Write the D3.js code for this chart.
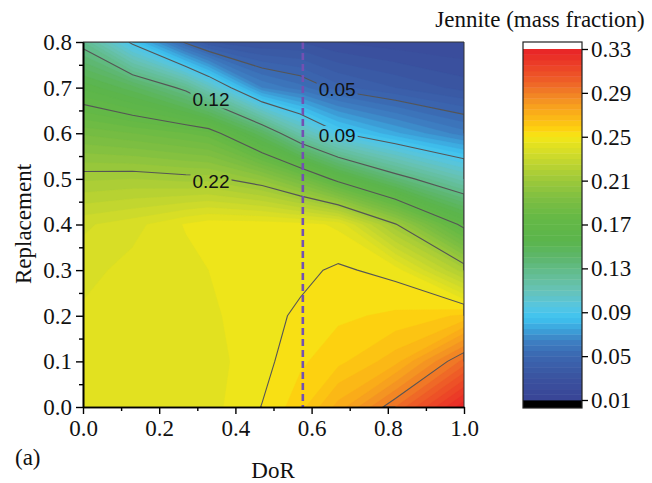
<!DOCTYPE html>
<html>
<head>
<meta charset="utf-8">
<script src="https://cdn.jsdelivr.net/npm/d3@7"></script>
<style>
  html, body { margin: 0; padding: 0; background: #fff; }
  svg { display: block; }
</style>
</head>
<body>
<svg id="chart" width="652" height="483"></svg>
<script>
// ---- data ----
const dorValues = [0, 0.13, 0.27, 0.33, 0.47, 0.57, 0.67, 0.82, 1.0];
const replacementValues = [0, 0.1, 0.2, 0.3, 0.4, 0.5, 0.6, 0.7, 0.8];
// rows: replacement 0 -> 0.8 ; columns: DoR as above
const jenniteRep00 = [0.242, 0.242, 0.242, 0.243, 0.2502, 0.258, 0.272, 0.295, 0.329];
const jenniteRep01 = [0.242, 0.242, 0.242, 0.243, 0.248, 0.254, 0.2585, 0.268, 0.297];
const jenniteRep02 = [0.241, 0.242, 0.2425, 0.244, 0.248, 0.251, 0.254, 0.256, 0.261];
const jenniteRep03 = [0.238, 0.242, 0.243, 0.245, 0.248, 0.2485, 0.251, 0.248, 0.217];
const jenniteRep04 = [0.234, 0.238, 0.2455, 0.248, 0.248, 0.247, 0.244, 0.211, 0.166];
const jenniteRep05 = [0.214, 0.215, 0.213, 0.213, 0.2035, 0.188, 0.165, 0.137, 0.112];
const jenniteRep06 = [0.189, 0.185, 0.180, 0.177, 0.145, 0.114, 0.091, 0.076, 0.062];
const jenniteRep07 = [0.159, 0.147, 0.126, 0.108, 0.065, 0.057, 0.047, 0.040, 0.033];
const jenniteRep08 = [0.125, 0.087, 0.048, 0.035, 0.030, 0.030, 0.025, 0.022, 0.020];
const jenniteRows = [jenniteRep00, jenniteRep01, jenniteRep02, jenniteRep03, jenniteRep04,
                     jenniteRep05, jenniteRep06, jenniteRep07, jenniteRep08];

const contourLevels = [0.05, 0.09, 0.13, 0.17, 0.21, 0.25, 0.29];
const labelTexts = ["0.05", "0.09", "0.12", "0.22"];
const labelDoR = [0.667, 0.667, 0.336, 0.336];
const labelRep = [0.696, 0.595, 0.675, 0.494];

const criticalDoR = 0.577;

const xTickValues = [0, 0.2, 0.4, 0.6, 0.8, 1.0];
const yTickValues = [0, 0.1, 0.2, 0.3, 0.4, 0.5, 0.6, 0.7, 0.8];
const colorbarTicks = [0.01, 0.05, 0.09, 0.13, 0.17, 0.21, 0.25, 0.29, 0.33];

const cmapStops = [0.01, 0.03, 0.05, 0.065, 0.075, 0.085, 0.095, 0.11, 0.125, 0.14, 0.155, 0.175,
                   0.195, 0.215, 0.235, 0.245, 0.25, 0.258, 0.27, 0.28, 0.29, 0.30, 0.315, 0.33];
const cmapColors = ["#394496", "#3a529f", "#3b66b0", "#3d82c4", "#3ca4dc", "#3ec4f0", "#55c5e2",
                    "#67c3b7", "#63bd92", "#5db66c", "#5bb54c", "#64b846", "#7fbf41", "#a6cc38",
                    "#d3dc29", "#e7e31d", "#f5e716", "#fdcf10", "#fbb217", "#f59b20", "#f17f26",
                    "#ee6227", "#eb4027", "#e82227"];

// ---- layout ----
const svg = d3.select("#chart");
const plot = {left: 83, right: 464, top: 42, bottom: 407};
const serif = "'Liberation Serif', 'Times New Roman', serif";
const sans = "'Liberation Sans', Arial, sans-serif";

const x = d3.scaleLinear().domain([0, 1]).range([plot.left, plot.right]);
const y = d3.scaleLinear().domain([0, 0.8]).range([plot.bottom, plot.top]);
const color = d3.scaleLinear().domain(cmapStops).range(cmapColors).interpolate(d3.interpolateRgb);

const nx = dorValues.length, ny = replacementValues.length;
const flat = [];
jenniteRows.forEach(r => r.forEach(v => flat.push(v)));

// grid coordinate -> data value (piecewise linear, clamped to the data range)
const gx = d3.scaleLinear().domain(dorValues.map((d, i) => i + 0.5)).range(dorValues).clamp(true);
const gy = d3.scaleLinear().domain(replacementValues.map((d, i) => i + 0.5)).range(replacementValues).clamp(true);
const px = p => [x(gx(p[0])), y(gy(p[1]))];

const thresholds = d3.range(0, 65).map(i => (10 + 5 * i) / 1000);
const contours = d3.contours().size([nx, ny]).thresholds(thresholds)(flat);

function polyPath(mp) {
  let s = "";
  mp.coordinates.forEach(poly => poly.forEach(ring => {
    ring.forEach((p, i) => {
      const q = px(p);
      s += (i === 0 ? "M" : "L") + q[0].toFixed(2) + "," + q[1].toFixed(2);
    });
    s += "Z";
  }));
  return s;
}
function linePath(mp) {
  let s = "";
  const onEdge = (a, b) => (a[0] === 0 && b[0] === 0) || (a[0] === nx && b[0] === nx) ||
                           (a[1] === 0 && b[1] === 0) || (a[1] === ny && b[1] === ny);
  mp.coordinates.forEach(poly => poly.forEach(ring => {
    let pen = false;
    for (let i = 0; i < ring.length - 1; i++) {
      const a = ring[i], b = ring[i + 1];
      if (onEdge(a, b)) { pen = false; continue; }
      const qa = px(a), qb = px(b);
      if (!pen) { s += "M" + qa[0].toFixed(2) + "," + qa[1].toFixed(2); pen = true; }
      s += "L" + qb[0].toFixed(2) + "," + qb[1].toFixed(2);
    }
  }));
  return s;
}

const defs = svg.append("defs");
defs.append("clipPath").attr("id", "plotClip").append("rect")
  .attr("x", plot.left).attr("y", plot.top)
  .attr("width", plot.right - plot.left).attr("height", plot.bottom - plot.top);

// filled contour bands
const gFill = svg.append("g").attr("clip-path", "url(#plotClip)");
gFill.selectAll("path").data(contours).join("path")
  .attr("d", d => polyPath(d))
  .attr("fill", d => d.value >= 0.33 ? "#ffffff" : color(d.value + 0.0025))
  .attr("stroke", d => d.value >= 0.33 ? "#ffffff" : color(d.value + 0.0025))
  .attr("stroke-width", 0.3);

// mask for label gaps
const mask = defs.append("mask").attr("id", "labelMask");
mask.append("rect").attr("x", 0).attr("y", 0).attr("width", 652).attr("height", 483).attr("fill", "#fff");

// contour lines
const lineContours = d3.contours().size([nx, ny]);
const gLines = svg.append("g").attr("clip-path", "url(#plotClip)")
  .append("g").attr("mask", "url(#labelMask)");
gLines.selectAll("path").data(contourLevels).join("path")
  .attr("d", lv => linePath(lineContours.contour(flat, lv)))
  .attr("fill", "none").attr("stroke", "#555").attr("stroke-width", 1.1);

// contour labels
const gLab = svg.append("g");
labelTexts.forEach((t, i) => {
  const tx = gLab.append("text")
    .attr("x", x(labelDoR[i])).attr("y", y(labelRep[i]))
    .attr("text-anchor", "middle").attr("dominant-baseline", "central")
    .attr("font-family", sans).attr("font-size", 19).attr("fill", "#111").text(t);
  const bb = tx.node().getBBox();
  mask.append("rect").attr("x", bb.x - 2).attr("y", bb.y + 1)
    .attr("width", bb.width + 4).attr("height", bb.height - 2).attr("fill", "#000");
});

// critical DoR dashed line
svg.append("line")
  .attr("x1", x(criticalDoR)).attr("x2", x(criticalDoR))
  .attr("y1", y(0.8)).attr("y2", y(0))
  .attr("stroke", "#7350b2").attr("stroke-width", 2.6).attr("stroke-dasharray", "7,4");

// frame (top and right)
svg.append("path")
  .attr("d", `M${plot.left},${plot.top}H${plot.right}V${plot.bottom}`)
  .attr("fill", "none").attr("stroke", "#333").attr("stroke-width", 1);

// axes
const yAxis = svg.append("g").attr("transform", `translate(${plot.left},0)`)
  .call(d3.axisLeft(y).tickValues(yTickValues).tickFormat(d3.format(".1f")).tickSize(7).tickSizeOuter(0).tickPadding(4));
const yMinor = svg.append("g").attr("transform", `translate(${plot.left},0)`)
  .call(d3.axisLeft(y).tickValues(d3.range(0, 8).map(i => (2 * i + 1) / 20)).tickFormat("").tickSize(4).tickSizeOuter(0));
const xAxis = svg.append("g").attr("transform", `translate(0,${plot.bottom})`)
  .call(d3.axisBottom(x).tickValues(xTickValues).tickFormat(d3.format(".1f")).tickSize(7).tickSizeOuter(0).tickPadding(6));
const xMinor = svg.append("g").attr("transform", `translate(0,${plot.bottom})`)
  .call(d3.axisBottom(x).tickValues([0.1, 0.3, 0.5, 0.7, 0.9]).tickFormat("").tickSize(4).tickSizeOuter(0));
[yAxis, yMinor, xAxis, xMinor].forEach(g => {
  g.selectAll("path.domain").attr("stroke", "#000").attr("stroke-width", 1.6);
  g.selectAll(".tick line").attr("stroke", "#000").attr("stroke-width", 1.4);
  g.selectAll("text").attr("font-family", serif).attr("font-size", 23).attr("fill", "#111");
});

// axis titles
svg.append("text").attr("x", 273).attr("y", 478).attr("text-anchor", "middle")
  .attr("font-family", serif).attr("font-size", 23).attr("fill", "#111").text("DoR");
svg.append("text").attr("transform", "translate(31,224) rotate(-90)").attr("text-anchor", "middle")
  .attr("font-family", serif).attr("font-size", 23).attr("fill", "#111").text("Replacement");
svg.append("text").attr("x", 15).attr("y", 465)
  .attr("font-family", serif).attr("font-size", 23).attr("fill", "#111").text("(a)");

// colorbar
const cb = {left: 523, right: 582, top: 42, bottom: 408};
const cbScale = d3.scaleLinear().domain([0.01, 0.33]).range([400, 49]);
const gcb = svg.append("g");
gcb.append("rect").attr("x", cb.left).attr("y", cb.top).attr("width", cb.right - cb.left)
  .attr("height", cbScale(0.33) - cb.top).attr("fill", "#fff");
gcb.append("rect").attr("x", cb.left).attr("y", cbScale(0.01)).attr("width", cb.right - cb.left)
  .attr("height", cb.bottom - cbScale(0.01)).attr("fill", "#000");
gcb.selectAll("rect.band").data(thresholds.slice(0, 64)).join("rect").attr("class", "band")
  .attr("x", cb.left).attr("width", cb.right - cb.left)
  .attr("y", t => cbScale(t + 0.005)).attr("height", t => cbScale(t) - cbScale(t + 0.005) + 0.4)
  .attr("fill", t => color(t + 0.0025));
gcb.append("rect").attr("x", cb.left).attr("y", cb.top).attr("width", cb.right - cb.left)
  .attr("height", cb.bottom - cb.top).attr("fill", "none").attr("stroke", "#222").attr("stroke-width", 1.2);
const cbAxis = svg.append("g").attr("transform", `translate(${cb.right},0)`)
  .call(d3.axisRight(cbScale).tickValues(colorbarTicks).tickFormat(d3.format(".2f")).tickSize(6).tickSizeOuter(0).tickPadding(3));
cbAxis.select("path.domain").remove();
cbAxis.selectAll(".tick line").attr("stroke", "#000").attr("stroke-width", 1.3);
cbAxis.selectAll("text").attr("font-family", serif).attr("font-size", 23).attr("fill", "#111");
svg.append("text").attr("x", 540).attr("y", 27).attr("text-anchor", "middle")
  .attr("font-family", serif).attr("font-size", 23).attr("fill", "#111").text("Jennite (mass fraction)");
</script>
</body>
</html>
